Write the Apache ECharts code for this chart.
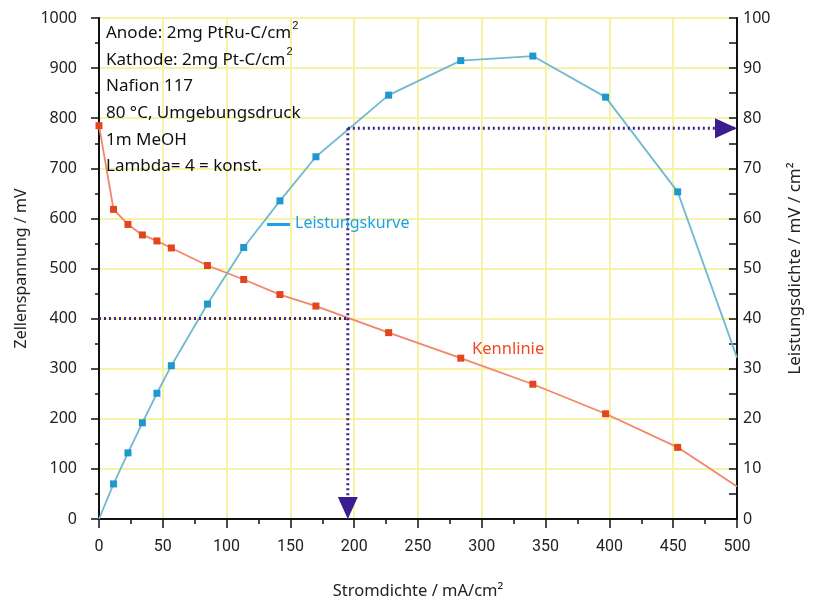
<!DOCTYPE html>
<html>
<head>
<meta charset="utf-8">
<script src="https://cdn.jsdelivr.net/npm/echarts@6/dist/echarts.min.js"></script>
<style>
  html, body { margin: 0; padding: 0; background: #fff; }
  #chart { width: 814px; height: 605px; }
</style>
</head>
<body>
<div id="chart"></div>
<script>
// Stromdichte (mA/cm2) der Messpunkte
const stromdichte = [0, 11.4, 22.7, 34, 45.4, 56.7, 85, 113.4, 141.8, 170, 227, 283.5, 340, 397, 453.5, 500]
// Zellenspannung (mV)
const spannung = [785, 618, 588, 567, 555, 541, 506, 478, 448, 425, 372, 321, 269, 210, 143, 65]
// Leistungsdichte (mW/cm2)
const leistung = [0, 7.0, 13.2, 19.2, 25.1, 30.6, 42.9, 54.2, 63.5, 72.3, 84.6, 91.5, 92.4, 84.2, 65.3, 32.2]
// Punkte ohne Marker (Anfang/Ende der Kurven)
const kennlinieMarker = [true, true, true, true, true, true, true, true, true, true, true, true, true, true, true, false]
const leistungMarker = [false, true, true, true, true, true, true, true, true, true, true, true, true, true, true, false]

// Ablesehilfe: Arbeitspunkt
const arbeitsStrom = 195
const arbeitsSpannung = 400
const arbeitsLeistung = 78

const infoLines = [
  'Anode: 2mg PtRu-C/cm{s|2}',
  'Kathode: 2mg Pt-C/cm{s|2}',
  'Nafion 117',
  '80 °C, Umgebungsdruck',
  '1m MeOH',
  'Lambda= 4 = konst.'
]

const FONT = '"Noto Sans", "Open Sans", sans-serif'
const guideColor = '#3b2483'
const supStyle = { fontSize: 11, verticalAlign: 'top', padding: [0, 0, 6, 1] }

const kennData = stromdichte.map((x, i) => ({
  value: [x, spannung[i]],
  symbol: kennlinieMarker[i] ? 'rect' : 'none'
}))
const leistData = stromdichte.map((x, i) => ({
  value: [x, leistung[i]],
  symbol: leistungMarker[i] ? 'rect' : 'none'
}))

const chart = echarts.init(document.getElementById('chart'))
const option = {
  backgroundColor: '#fff',
  animation: false,
  grid: {
    left: 99, right: 77, top: 18, bottom: 84,
    show: true, borderColor: '#111', borderWidth: 1.5, backgroundColor: '#fff'
  },
  xAxis: {
    type: 'value', min: 0, max: 500, interval: 50,
    name: 'Stromdichte / mA/cm²',
    nameLocation: 'middle', nameGap: 64,
    nameTextStyle: { color: '#222', fontSize: 16.5, fontFamily: FONT },
    axisLine: { lineStyle: { color: '#111', width: 2 } },
    axisTick: { show: true, inside: false, length: 9, lineStyle: { color: '#111', width: 1.5 } },
    minorTick: { show: true, splitNumber: 2, length: 5, lineStyle: { color: '#111', width: 1.5 } },
    axisLabel: { color: '#222', fontSize: 16, margin: 20, fontFamily: '"Liberation Sans Narrow", "Roboto", sans-serif' },
    splitLine: { show: true, lineStyle: { color: '#f6f3a6', width: 2 } }
  },
  yAxis: [
    {
      type: 'value', min: 0, max: 1000, interval: 100,
      name: 'Zellenspannung / mV',
      nameLocation: 'middle', nameGap: 68, nameRotate: 90,
      nameTextStyle: { color: '#222', fontSize: 16, fontFamily: FONT },
      axisLine: { show: true, lineStyle: { color: '#111', width: 2 } },
      axisTick: { show: true, inside: false, length: 8, lineStyle: { color: '#111', width: 1.5 } },
      minorTick: { show: true, splitNumber: 2, length: 4, lineStyle: { color: '#111', width: 1.5 } },
      axisLabel: { color: '#222', fontSize: 16, margin: 22, fontFamily: FONT, formatter: v => String(v) },
      splitLine: { show: true, lineStyle: { color: '#f6f3a6', width: 2 } }
    },
    {
      type: 'value', min: 0, max: 100, interval: 10, position: 'right',
      name: 'Leistungsdichte / mV / cm²',
      nameLocation: 'middle', nameGap: 50, nameRotate: 90,
      nameTextStyle: { color: '#222', fontSize: 17, fontFamily: FONT },
      axisLine: { show: true, lineStyle: { color: '#111', width: 2 } },
      axisTick: { show: true, inside: true, length: 8, lineStyle: { color: '#111', width: 1.5 } },
      minorTick: { show: true, splitNumber: 2, length: 8, lineStyle: { color: '#111', width: 1.5 } },
      axisLabel: { color: '#222', fontSize: 16, margin: 6, fontFamily: FONT },
      splitLine: { show: false }
    }
  ],
  series: [
    {
      name: 'Kennlinie', type: 'line', yAxisIndex: 0, data: kennData,
      symbolSize: 7, itemStyle: { color: '#e2461e' },
      lineStyle: { color: '#f2866a', width: 1.8 }, z: 3
    },
    {
      name: 'Leistungskurve', type: 'line', yAxisIndex: 1, data: leistData,
      symbolSize: 7, itemStyle: { color: '#1f97cf' },
      lineStyle: { color: '#72b9cf', width: 1.8 }, z: 3
    },
    {
      // waagerechte Ablesehilfe bei 400 mV
      type: 'line', yAxisIndex: 0, symbol: 'none', z: 4,
      data: [[0, arbeitsSpannung], [arbeitsStrom, arbeitsSpannung]],
      lineStyle: { color: guideColor, width: 3, type: [2, 3] }
    },
    {
      // senkrechte Ablesehilfe
      type: 'line', yAxisIndex: 1, symbol: 'none', z: 4,
      data: [[arbeitsStrom, arbeitsLeistung], [arbeitsStrom, 0]],
      lineStyle: { color: guideColor, width: 3, type: [2, 3] }
    },
    {
      // zur rechten Achse
      type: 'line', yAxisIndex: 1, symbol: 'none', z: 4,
      data: [[arbeitsStrom, arbeitsLeistung], [500, arbeitsLeistung]],
      lineStyle: { color: guideColor, width: 3, type: [2, 3] }
    },
    {
      // Pfeilspitzen
      type: 'scatter', yAxisIndex: 1, z: 5, silent: true,
      itemStyle: { color: '#3a1d8e', opacity: 1 },
      data: [
        { value: [arbeitsStrom, 0], symbol: 'path://M0,0 L20,0 L10,22 Z', symbolSize: [20, 22], symbolOffset: [0, -11] },
        { value: [500, arbeitsLeistung], symbol: 'path://M0,0 L22,10 L0,20 Z', symbolSize: [22, 20], symbolOffset: [-11, 0] }
      ]
    }
  ],
  graphic: [
    {
      type: 'text', left: 106, top: 20, z: 10,
      style: {
        text: infoLines.join('\n'),
        font: '17px ' + FONT, fill: '#111', lineHeight: 26.6,
        rich: { s: Object.assign({ fill: '#111' }, supStyle) }
      }
    },
    {
      type: 'line', z: 10,
      shape: { x1: 267, y1: 224.5, x2: 290, y2: 224.5 },
      style: { stroke: '#1da1e6', lineWidth: 3 }
    },
    {
      type: 'text', left: 295, top: 215, z: 10,
      style: { text: 'Leistungskurve', font: '16px ' + FONT, fill: '#1da1e6' }
    },
    {
      type: 'text', left: 472, top: 341, z: 10,
      style: { text: 'Kennlinie', font: '16.5px ' + FONT, fill: '#f04a24' }
    }
  ]
}
chart.setOption(option)
</script>
</body>
</html>
